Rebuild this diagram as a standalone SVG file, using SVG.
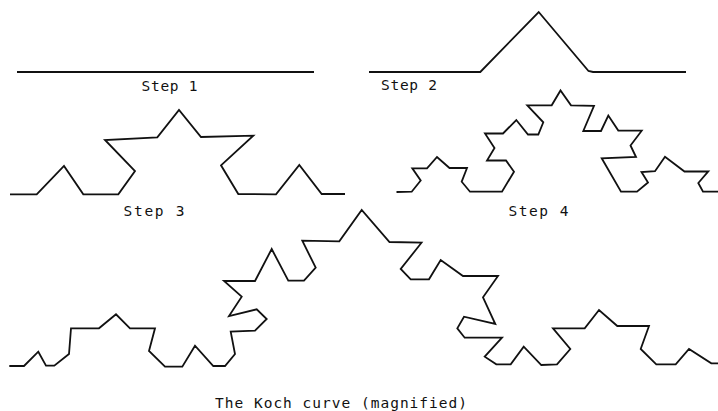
<svg xmlns="http://www.w3.org/2000/svg" width="718" height="411" viewBox="0 0 718 411">
  <style>
    .curve { fill: none; stroke: #111; stroke-width: 1.8; stroke-linejoin: miter; stroke-linecap: butt; }
    .label { font-family: "DejaVu Sans Mono", "Liberation Mono", monospace; font-size: 14.5px; fill: #111; }
  </style>
  <rect width="718" height="411" fill="#fff"/>

  <!-- Step 1: the initiator segment -->
  <g id="step1">
    <polyline class="curve" points="17,72 314,72"/>
    <text class="label" x="141.5" y="90.5" textLength="56" lengthAdjust="spacing">Step 1</text>
  </g>

  <!-- Step 2: one bump on the middle third -->
  <g id="step2">
    <polyline class="curve" points="369,72 480.3,72 538.7,12 588.5,71 593,72 686,72"/>
    <text class="label" x="381" y="90" textLength="56" lengthAdjust="spacing">Step 2</text>
  </g>

  <!-- Step 3 -->
  <g id="step3">
    <polyline class="curve" points="10,194.3 36.7,194.3 64,166 83.3,194.3 118.3,194.3 135,171 105,140 157.3,137.3 179,110 201,137 253.3,135.7 221,165.3 238.3,194 276,194.3 299.3,165 321.7,194 345,194"/>
    <text class="label" x="123.5" y="216" textLength="61" lengthAdjust="spacing">Step 3</text>
  </g>

  <!-- Step 4 -->
  <g id="step4">
    <polyline class="curve" points="396.5,192 411.7,191.7 420.7,180.5 412.3,168.3 427,168.3 437,157 449.5,168 467,168 461.7,181.7 470,191.7 502,191.7 514,171.7 506,160.5 487,160.5 494.5,148 485,133.5 503,133.5 516.3,120 528,134.5 538.3,134.5 543.3,122.3 527.3,105.3 551.7,105.3 560.5,90.5 571,105.3 594,105.8 583.3,131 601,131 608.3,115.5 618.3,130.5 641.7,130.7 630.5,145.5 636,157 601.7,158.3 621,191.7 637,191.7 648,182.5 641.5,172 655,171.2 665,156.7 684.5,171.5 708.3,171.3 698.3,183 703,191.7 718,191.7"/>
    <text class="label" x="508.5" y="215.5" textLength="60" lengthAdjust="spacing">Step 4</text>
  </g>

  <!-- Magnified curve -->
  <g id="magnified">
    <polyline class="curve" points="9.3,366 24,366 38.3,351.7 46,365.7 54.3,365.7 69,354 71,328.3 99,328.3 116,314.3 130,328.3 155,328.3 149,351 165,366.7 182.3,366.7 195,345.7 213.3,366 225,366 235,354 230.7,331.7 255,330.7 266.7,319 256.7,309.3 229,316 241.7,296.7 224,281 255,281 271.7,249 288.3,280.7 304,280.7 315.7,267.7 302.3,240.7 339.3,241.3 361.7,210 389.5,242 421.5,242.7 400.7,269 410.7,279.3 429,279.3 440.7,260 463,276 498,276 483,297.3 495.3,324 464,316.7 457.3,328.3 464.7,337.7 502,337.7 484.7,356.7 496.3,364.3 510.7,364.3 523.7,346.7 541.3,365 557,364.3 570.3,349 553,328.3 584.7,328.3 599,310 617.3,326 649,326 640.7,349 656.3,364.3 675.7,364.3 689,349 711.3,363.3 718,363.3"/>
    <text class="label" x="215" y="408" textLength="252" lengthAdjust="spacing">The Koch curve (magnified)</text>
  </g>
</svg>
